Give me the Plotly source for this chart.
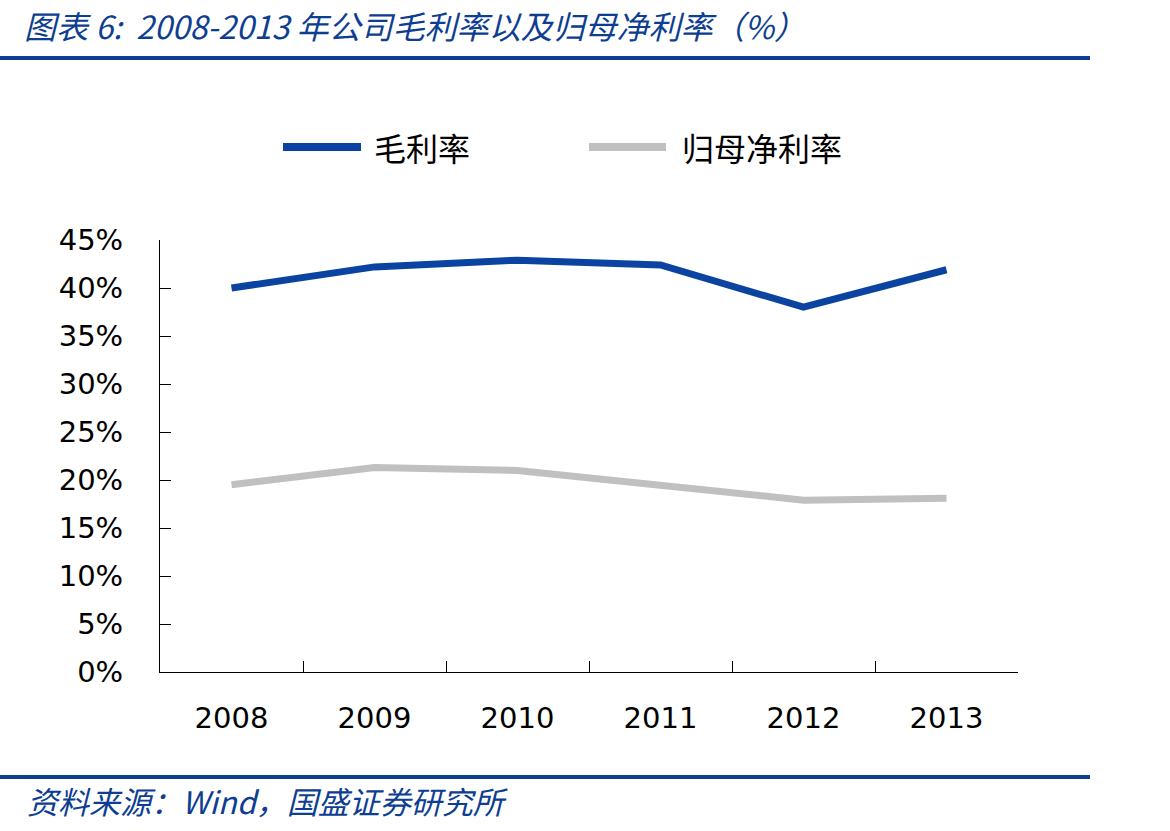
import plotly.graph_objects as go

years = ["2008", "2009", "2010", "2011", "2012", "2013"]
gross_margin = [40.0, 42.2, 42.9, 42.4, 38.0, 41.9]
net_margin = [19.5, 21.3, 21.0, 19.5, 17.9, 18.1]
series_names = ["毛利率", "归母净利率"]
y_ticks = [0, 5, 10, 15, 20, 25, 30, 35, 40, 45]
y_tick_text = [f"{v}%" for v in y_ticks]

BLUE = "#0B44A0"
GRAY = "#C0C0C0"
TITLE_BLUE = "#0D3E91"

W, H = 1170, 831
L, R, T, B = 160, 1018, 240, 672


def px(x):
    return (x - L) / (R - L)


def py(y):
    return (B - y) / (B - T)


fig = go.Figure()
fig.add_trace(go.Scatter(x=years, y=gross_margin, mode="lines", name=series_names[0],
                         line=dict(color=BLUE, width=7), showlegend=False))
fig.add_trace(go.Scatter(x=years, y=net_margin, mode="lines", name=series_names[1],
                         line=dict(color=GRAY, width=7), showlegend=False))

shapes = []
# title and footer rules
shapes.append(dict(type="line", xref="paper", yref="paper", x0=px(0), x1=px(1090),
                   y0=py(58), y1=py(58), line=dict(color=TITLE_BLUE, width=4)))
shapes.append(dict(type="line", xref="paper", yref="paper", x0=px(0), x1=px(1090),
                   y0=py(777), y1=py(777), line=dict(color=TITLE_BLUE, width=4)))
# legend samples
shapes.append(dict(type="line", xref="paper", yref="paper", x0=px(283), x1=px(361),
                   y0=py(147), y1=py(147), line=dict(color=BLUE, width=8)))
shapes.append(dict(type="line", xref="paper", yref="paper", x0=px(589), x1=px(666),
                   y0=py(147), y1=py(147), line=dict(color=GRAY, width=8)))

annotations = [
    dict(text="图表 6:  2008-2013 年公司毛利率以及归母净利率（%）", xref="paper", yref="paper",
         x=px(22), y=py(25), xanchor="left", yanchor="middle", showarrow=False,
         font=dict(family="Noto Sans CJK SC", size=32, color=TITLE_BLUE, style="italic")),
    dict(text="资料来源：Wind，国盛证券研究所", xref="paper", yref="paper",
         x=px(25), y=py(800), xanchor="left", yanchor="middle", showarrow=False,
         font=dict(family="Noto Sans CJK SC", size=31, color=TITLE_BLUE, style="italic")),
    dict(text=series_names[0], xref="paper", yref="paper",
         x=px(372), y=py(147), xanchor="left", yanchor="middle", showarrow=False,
         font=dict(family="Noto Sans CJK SC", size=32, color="#000000")),
    dict(text=series_names[1], xref="paper", yref="paper",
         x=px(680), y=py(147), xanchor="left", yanchor="middle", showarrow=False,
         font=dict(family="Noto Sans CJK SC", size=32, color="#000000")),
]

fig.update_layout(
    width=W, height=H,
    margin=dict(l=L, r=W - R, t=T, b=H - B, pad=0),
    paper_bgcolor="white", plot_bgcolor="white",
    shapes=shapes, annotations=annotations,
    showlegend=False,
    xaxis=dict(type="category", range=[-0.5, 5.5], showline=True, linecolor="black", linewidth=1,
               ticks="inside", ticklen=11, tickcolor="black", tickson="boundaries",
               showgrid=False, zeroline=False, ticklabelstandoff=20,
               tickfont=dict(family="DejaVu Sans", size=29, color="black")),
    yaxis=dict(range=[0, 45], tickvals=y_ticks, ticktext=y_tick_text, showline=True,
               linecolor="black", linewidth=1, ticks="inside", ticklen=11, tickcolor="black",
               showgrid=False, zeroline=False, ticklabelstandoff=30,
               tickfont=dict(family="DejaVu Sans", size=29, color="black")),
)

fig.write_html("out.html")
